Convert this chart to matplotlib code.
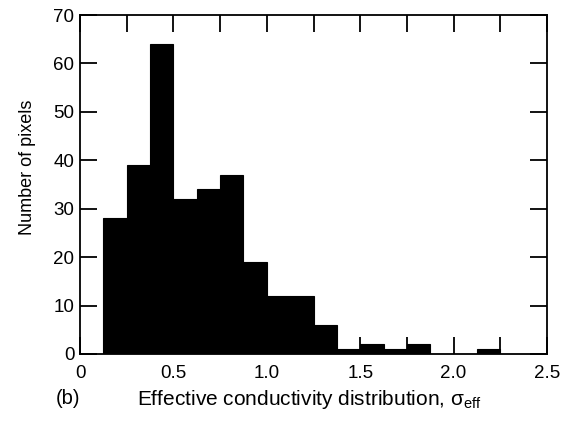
import matplotlib.pyplot as plt
import numpy as np

# histogram bins (width 0.125) and counts
bin_left = [0.125, 0.25, 0.375, 0.5, 0.625, 0.75, 0.875, 1.0, 1.125,
            1.25, 1.375, 1.5, 1.625, 1.75, 1.875, 2.0, 2.125]
counts = [28, 39, 64, 32, 34, 37, 19, 12, 12, 6, 1, 2, 1, 2, 0, 0, 1]
bin_width = 0.125

xticks = [0, 0.5, 1.0, 1.5, 2.0, 2.5]
xticklabels = ['0', '0.5', '1.0', '1.5', '2.0', '2.5']
yticks = [0, 10, 20, 30, 40, 50, 60, 70]

plt.rcParams['font.family'] = ['Liberation Sans', 'DejaVu Sans']
plt.rcParams['mathtext.fontset'] = 'custom'
plt.rcParams['mathtext.rm'] = 'Liberation Sans'
plt.rcParams['mathtext.it'] = 'Liberation Sans'

fig = plt.figure(figsize=(5.67, 4.21), dpi=100)
ax = fig.add_axes([80 / 567, 1 - 354 / 421, 467 / 567, 339 / 421])

ax.bar(bin_left, counts, width=bin_width, align='edge', color='black',
       edgecolor='black', linewidth=0.8)

ax.set_xlim(0, 2.5)
ax.set_ylim(0, 70)
ax.set_xticks(xticks)
ax.set_xticklabels(xticklabels)
ax.set_xticks(np.arange(0.25, 2.5, 0.5), minor=True)
ax.set_yticks(yticks)
ax.tick_params(which='both', direction='in', top=True, right=True,
               length=12, width=1.3, labelsize=13.5)
ax.tick_params(axis='x', pad=8)
ax.tick_params(axis='y', pad=4)
for s in ax.spines.values():
    s.set_linewidth(1.3)

ax.set_ylabel('Number of pixels', fontsize=13)
ax.yaxis.set_label_coords(-0.095, 0.55)
ax.set_xlabel(r'Effective conductivity distribution, $\sigma_{\rm eff}$',
              fontsize=15, va='top')
ax.xaxis.set_label_coords(0.49, -0.1)
fig.text(56 / 567, 1 - 398 / 421, '(b)', fontsize=14.5, va='center')

fig.savefig('out.png', dpi=100)
